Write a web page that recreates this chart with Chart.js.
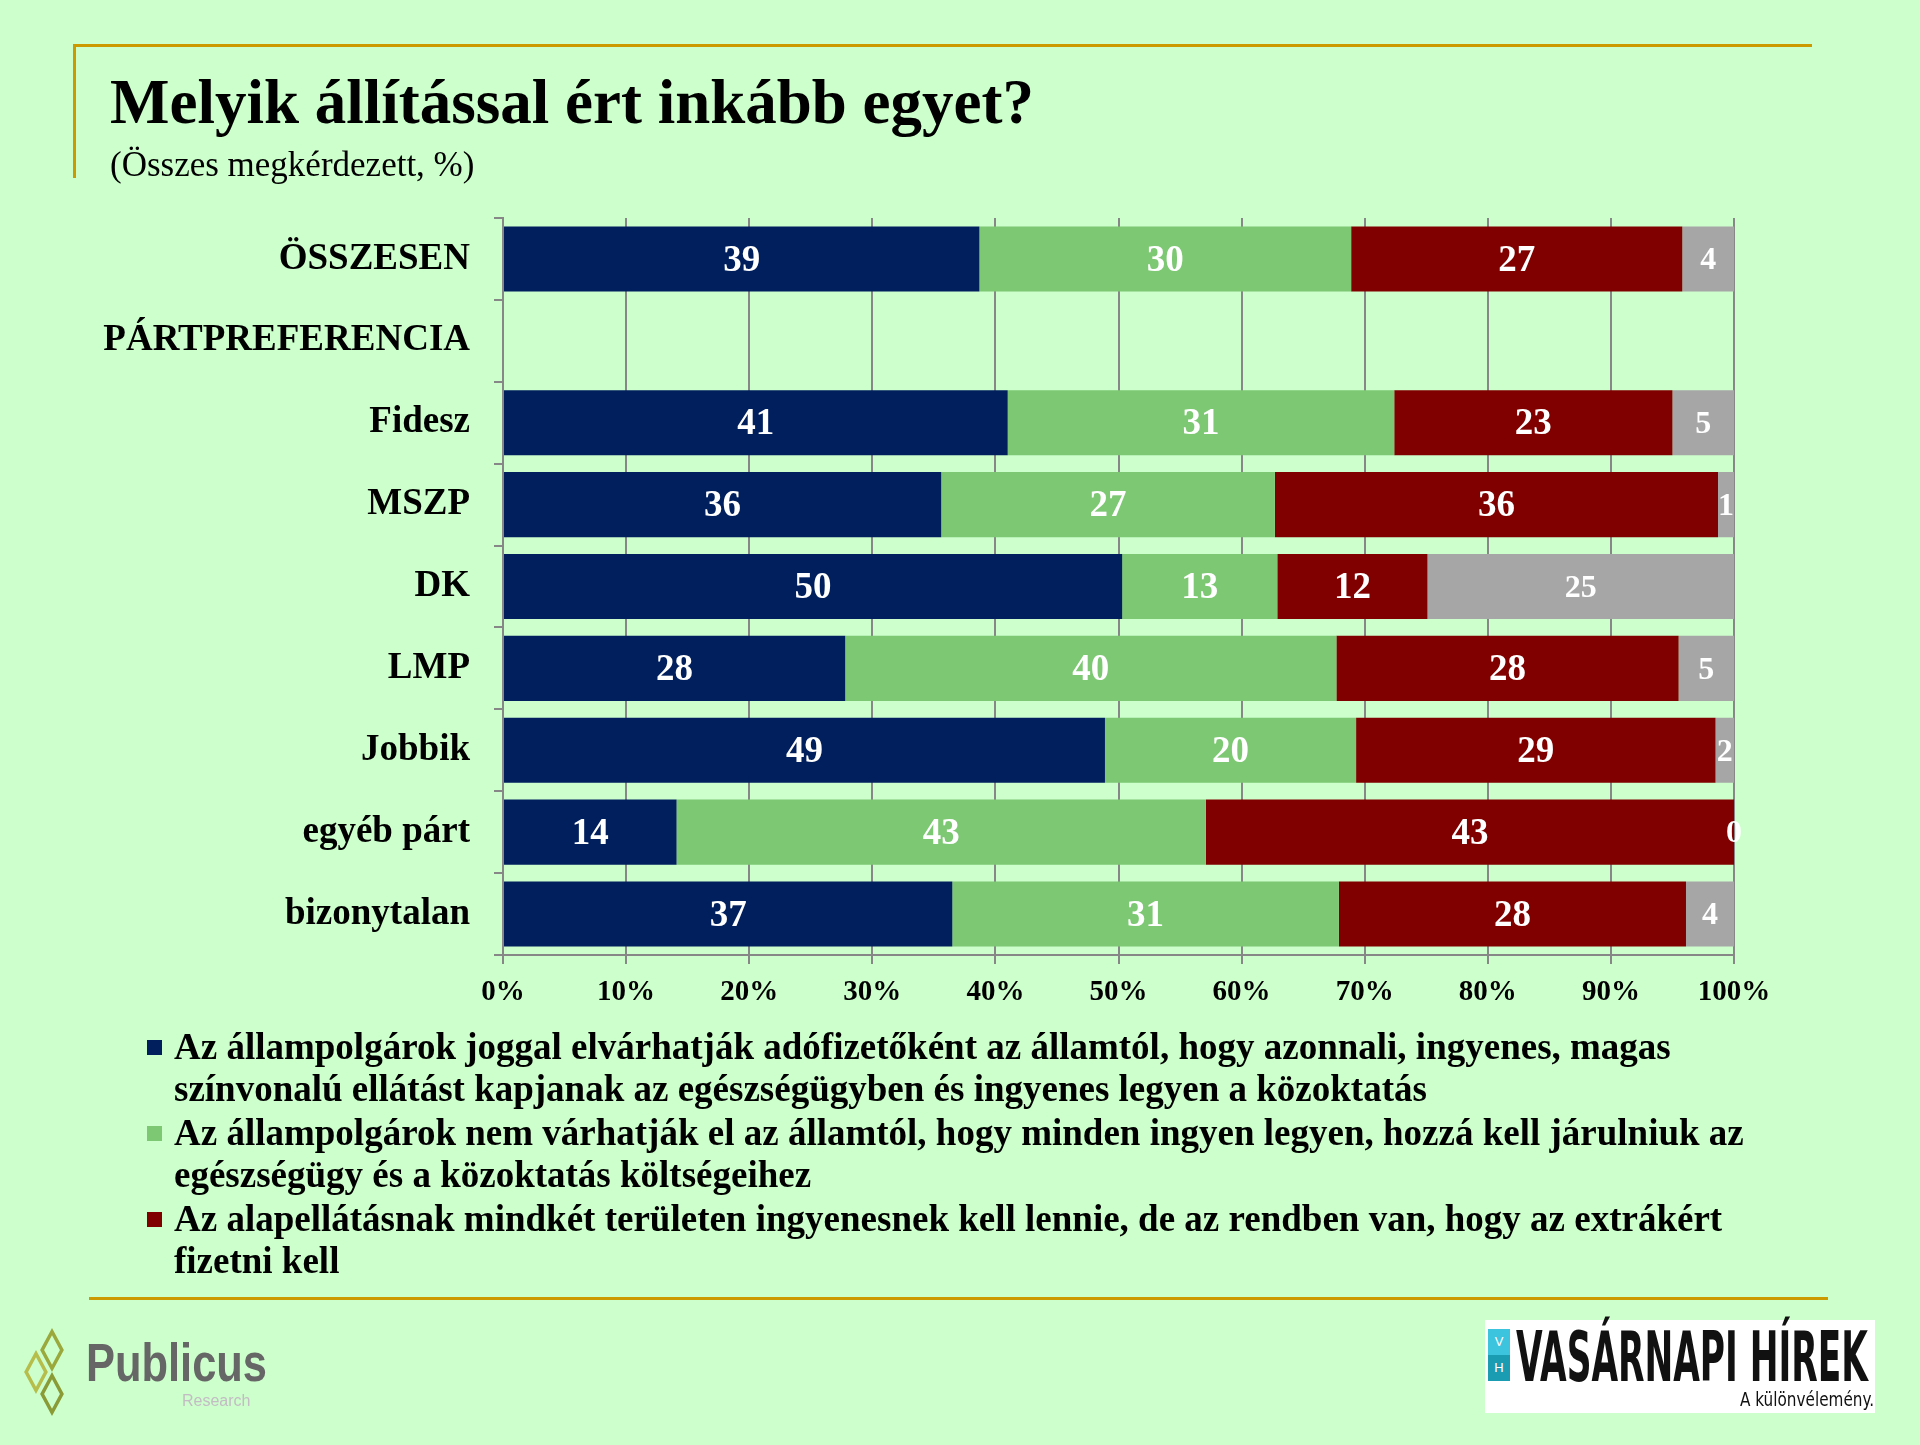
<!DOCTYPE html>
<html><head><meta charset="utf-8">
<script src="https://cdn.jsdelivr.net/npm/chart.js@4.4.1/dist/chart.umd.min.js"></script>
<style>
html,body{margin:0;padding:0;background:#CCFFCC;width:1920px;height:1445px;overflow:hidden;}
#wrap{position:relative;width:1920px;height:1445px;}
#c{position:absolute;left:0;top:0;}
.abs{position:absolute;}
.serif{font-family:"Liberation Serif","Times New Roman",serif;color:#000;}
#title{left:110px;top:71px;font-size:63px;font-weight:bold;line-height:1;white-space:nowrap;}
#subtitle{left:110px;top:147px;font-size:35px;line-height:1;white-space:nowrap;}
.gold{background:#CC9900;}
#legend{left:147px;top:1026px;}
.item{position:relative;padding-left:27px;margin-bottom:2px;}
.sq{position:absolute;left:0;top:14px;width:15px;height:15px;}
.ln{font-family:"Liberation Serif",serif;font-weight:bold;font-size:37px;line-height:42px;white-space:nowrap;}
</style></head><body>
<div id="wrap">
<canvas id="c" width="1920" height="1445"></canvas>
<div class="abs gold" style="left:73px;top:44px;width:1739px;height:3px;"></div>
<div class="abs gold" style="left:73px;top:44px;width:3px;height:134px;"></div>
<div id="title" class="abs serif">Melyik állítással ért inkább egyet?</div>
<div id="subtitle" class="abs serif">(Összes megkérdezett, %)</div>
<div id="legend" class="abs"></div>
<div class="abs gold" style="left:89px;top:1297px;width:1739px;height:3px;"></div>

<!-- Publicus logo -->
<div class="abs" style="left:22px;top:1338px;width:60px;height:75px;">
  <div class="abs" style="left:18px;top:0px;width:16px;height:16px;border:4px solid #9aa83c;transform:scale(0.7,1.3) rotate(45deg);"></div>
  <div class="abs" style="left:2px;top:22px;width:16px;height:16px;border:4px solid #b7bd4a;transform:scale(0.7,1.3) rotate(45deg);"></div>
  <div class="abs" style="left:18px;top:44px;width:16px;height:16px;border:4px solid #8a9a34;transform:scale(0.7,1.3) rotate(45deg);"></div>
</div>
<div id="pub" class="abs" style="left:86px;top:1335px;font-family:'Liberation Sans',Arial,sans-serif;font-weight:bold;font-size:54px;line-height:1;color:#666;transform-origin:0 0;white-space:nowrap;">Publicus</div>
<div class="abs" style="left:182px;top:1393px;font-family:'Liberation Sans',Arial,sans-serif;font-size:16px;line-height:1;color:#c4bcc4;">Research</div>

<!-- Vasarnapi Hirek logo -->
<div class="abs" style="left:1485px;top:1320px;width:390px;height:93px;background:#fff;"></div>
<div class="abs" style="left:1488px;top:1329px;width:22px;height:26px;background:#3cc3dd;color:#fff;font:13px 'Liberation Sans',sans-serif;text-align:center;line-height:26px;">V</div>
<div class="abs" style="left:1488px;top:1355px;width:22px;height:26px;background:#1a9cb3;color:#fff;font:13px 'Liberation Sans',sans-serif;text-align:center;line-height:26px;">H</div>
<div id="vh" class="abs" style="left:1516px;top:1322px;font-family:'Liberation Sans Narrow','DejaVu Sans Condensed','Liberation Sans',sans-serif;font-weight:bold;font-size:70px;line-height:1;color:#111;transform-origin:0 0;white-space:nowrap;">VASÁRNAPI HÍREK</div>
<div id="kv" class="abs" style="left:1740px;top:1390px;font-family:'Liberation Sans Narrow','DejaVu Sans Condensed','Liberation Sans',sans-serif;font-size:19px;line-height:1;color:#111;transform-origin:0 0;white-space:nowrap;">A különvélemény.</div>
</div>

<script>
// ---- data ----
const categories = ['ÖSSZESEN','PÁRTPREFERENCIA','Fidesz','MSZP','DK','LMP','Jobbik','egyéb párt','bizonytalan'];
const seriesNames = [
  'Az állampolgárok joggal elvárhatják adófizetőként az államtól, hogy azonnali, ingyenes, magas színvonalú ellátást kapjanak az egészségügyben és ingyenes legyen a közoktatás',
  'Az állampolgárok nem várhatják el az államtól, hogy minden ingyen legyen, hozzá kell járulniuk az egészségügy és a közoktatás költségeihez',
  'Az alapellátásnak mindkét területen ingyenesnek kell lennie, de az rendben van, hogy az extrákért fizetni kell',
  'Nem tudja'
];
const legendLines = [
  ['Az állampolgárok joggal elvárhatják adófizetőként az államtól, hogy azonnali, ingyenes, magas','színvonalú ellátást kapjanak az egészségügyben és ingyenes legyen a közoktatás'],
  ['Az állampolgárok nem várhatják el az államtól, hogy minden ingyen legyen, hozzá kell járulniuk az','egészségügy és a közoktatás költségeihez'],
  ['Az alapellátásnak mindkét területen ingyenesnek kell lennie, de az rendben van, hogy az extrákért','fizetni kell']
];
const blueValues  = [38.7, null, 41.0, 35.6, 50.3, 27.8, 48.9, 14.1, 36.5];
const greenValues = [30.2, null, 31.4, 27.1, 12.6, 39.9, 20.4, 43.0, 31.4];
const redValues   = [26.9, null, 22.6, 36.0, 12.2, 27.8, 29.2, 42.9, 28.2];
const greyValues  = [4.2,  null, 5.0,  1.3,  24.9, 4.5,  1.5,  0,    3.9];
const xTickValues = [0,10,20,30,40,50,60,70,80,90,100];

const colors = ['#001F5C','#7DC873','#800000','#A6A6A6'];
const seriesValues = [blueValues, greenValues, redValues, greyValues];

// legend (HTML)
const lg = document.getElementById('legend');
legendLines.forEach((lines,i)=>{
  const it = document.createElement('div'); it.className='item';
  const sq = document.createElement('div'); sq.className='sq'; sq.style.background=colors[i]; it.appendChild(sq);
  lines.forEach(t=>{const d=document.createElement('div'); d.className='ln'; d.textContent=t; it.appendChild(d);});
  lg.appendChild(it);
});

// logo text fitting
function fitW(id,w){const e=document.getElementById(id);const r=e.getBoundingClientRect().width;e.style.transform='scaleX('+(w/r)+')';}
fitW('pub',181); fitW('vh',352); fitW('kv',134);

const valueLabels = {
  id:'valueLabels',
  afterDatasetsDraw(chart){
    const ctx = chart.ctx;
    chart.data.datasets.forEach((ds,i)=>{
      const meta = chart.getDatasetMeta(i);
      meta.data.forEach((el,j)=>{
        const v = ds.data[j];
        if (v === null || v === undefined) return;
        ctx.save();
        ctx.fillStyle = '#fff';
        ctx.font = 'bold ' + (i===3 ? 32 : 37) + 'px "Liberation Serif", serif';
        ctx.textAlign = 'center';
        ctx.textBaseline = 'middle';
        ctx.fillText(String(Math.round(v)), (el.x + el.base)/2, el.y + 2);
        ctx.restore();
      });
    });
  }
};

new Chart(document.getElementById('c'), {
  type:'bar',
  data:{
    labels: categories,
    datasets: seriesValues.map((vals,i)=>({
      label: seriesNames[i], data: vals, backgroundColor: colors[i],
      borderWidth:0, barPercentage:1, categoryPercentage:0.795
    }))
  },
  options:{
    indexAxis:'y', responsive:false, animation:false,
    layout:{padding:{top:218,right:186,bottom:430,left:0}},
    plugins:{legend:{display:false}, tooltip:{enabled:false}},
    scales:{
      x:{
        stacked:true, min:0, max:100,
        afterBuildTicks(s){ s.ticks = xTickValues.map(v=>({value:v})); },
        ticks:{callback:v=>v+'%', font:{family:'Liberation Serif', weight:'bold', size:29}, color:'#000', padding:11, maxRotation:0},
        grid:{color:'#878787', lineWidth:2, tickLength:9, drawTicks:true},
        border:{color:'#878787', width:2},
        afterFit(s){ s.height = 60; }
      },
      y:{
        stacked:true,
        ticks:{font:{family:'Liberation Serif', weight:'bold', size:37}, color:'#000', padding:24},
        grid:{drawOnChartArea:false, color:'#878787', lineWidth:2, tickLength:9, offset:true},
        border:{color:'#878787', width:2},
        afterFit(s){ s.width = 503; }
      }
    }
  },
  plugins:[valueLabels]
});
</script>
</body></html>
